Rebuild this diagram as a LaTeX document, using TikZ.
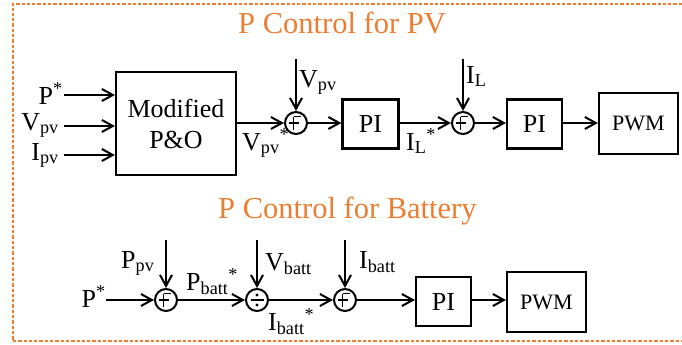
\documentclass[tikz,border=0pt]{standalone}
\usepackage{fontspec}
\setmainfont{Liberation Serif}
\usetikzlibrary{arrows.meta,calc}
\definecolor{ttl}{RGB}{237,125,49}
\begin{document}
\begin{tikzpicture}[x=1pt,y=-1pt,
  arr/.style={line width=2pt,-{Straight Barb[length=11pt,width=12pt,line width=2pt]}},
  blk/.style={draw,line width=2.1pt,inner sep=0pt,align=center,font=\fontsize{26}{31}\selectfont},
  lbl/.style={inner sep=0pt,font=\fontsize{26}{28}\selectfont},
  ttlstyle/.style={inner sep=0pt,text=ttl,font=\fontsize{30.5}{32}\selectfont},
  junc/.style={circle,draw,line width=2pt,minimum size=22pt,inner sep=0pt},
  sumF/.style={junc,path picture={\draw[line width=1.4pt]
     ($(path picture bounding box.center)+(-7.5pt,0pt)$) -- ++(10pt,0pt)
     ($(path picture bounding box.center)+(-2.5pt,6.5pt)$) -- ++(0pt,-13pt)
     ($(path picture bounding box.center)+(-2.5pt,6.5pt)$) -- ++(7.5pt,0pt);}},
  divJ/.style={junc,path picture={\draw[line width=1.4pt]
     ($(path picture bounding box.center)+(-6.5pt,0pt)$) -- ++(13pt,0pt);
     \fill ($(path picture bounding box.center)+(0pt,5pt)$) circle (1.6pt);
     \fill ($(path picture bounding box.center)+(0pt,-5pt)$) circle (1.6pt);}}
]
\useasboundingbox (0,0) rectangle (682,345);
% border
\draw[ttl,line width=2pt,dash pattern=on 3.3pt off 2pt] (682,4) -- (12.5,4) -- (12.5,341) -- (682,341);

% titles
\node[ttlstyle,anchor=base west] (t1) at (238,34) {P Control for PV};
\node[ttlstyle,anchor=base west] (t2) at (218,218) {P Control for Battery};

% ---- PV row ----
\node[blk,minimum width=120pt,minimum height=103pt] (mpo) at (176,123.5) {Modified\\P\&O};
\node[sumF] (s1) at (296,123) {};
\node[blk,minimum width=56pt,minimum height=49pt] (pi1) at (370.5,124) {PI};
\node[sumF] (s2) at (463,123) {};
\node[blk,minimum width=55pt,minimum height=49pt] (pi2) at (534.5,124) {PI};
\node[blk,minimum width=79pt,minimum height=61pt,font=\fontsize{22}{24}\selectfont] (pwm1) at (638.5,123.5) {PWM};

\coordinate (inP) at (64,95);
\coordinate (inV) at (64,126);
\coordinate (inI) at (64,155);
\coordinate (topV) at (296,59);
\coordinate (topI) at (463,59);

\draw[arr] (inP) -- (mpo.west |- inP);
\draw[arr] (inV) -- (mpo.west |- inV);
\draw[arr] (inI) -- (mpo.west |- inI);
\draw[arr] (mpo.east |- s1) -- (s1);
\draw[arr] (topV) -- (s1);
\draw[arr] (s1) -- (pi1.west |- s1);
\draw[arr] (pi1.east |- s2) -- (s2);
\draw[arr] (topI) -- (s2);
\draw[arr] (s2) -- (pi2.west |- s2);
\draw[arr] (pi2.east |- s2) -- (pwm1.west |- s2);

\node[lbl,anchor=base east] (lP) at (63,104) {P\textsuperscript{*}};
\node[lbl,anchor=base east] (lV) at (59,130) {V\textsubscript{pv}};
\node[lbl,anchor=base east] (lI) at (59,160) {I\textsubscript{pv}};
\node[lbl,anchor=base west] (lVo) at (242,150) {V\textsubscript{pv}\textsuperscript{*}};
\node[lbl,anchor=base west] (lVt) at (299,87) {V\textsubscript{pv}};
\node[lbl,anchor=base west] (lIo) at (406,150) {I\textsubscript{L}\textsuperscript{*}};
\node[lbl,anchor=base west] (lIt) at (466,83) {I\textsubscript{L}};

% ---- Battery row ----
\node[sumF] (s3) at (166,300) {};
\node[divJ] (d1) at (257,300) {};
\node[sumF] (s4) at (345,300) {};
\node[blk,minimum width=55pt,minimum height=49pt] (pi3) at (443.5,301.5) {PI};
\node[blk,minimum width=79pt,minimum height=60pt,font=\fontsize{22}{24}\selectfont] (pwm2) at (546.5,302) {PWM};

\coordinate (inPb) at (106,300);
\coordinate (topP) at (166,240);
\coordinate (topVb) at (257,240);
\coordinate (topIb) at (345,240);

\draw[arr] (inPb) -- (s3);
\draw[arr] (topP) -- (s3);
\draw[arr] (s3) -- (d1);
\draw[arr] (topVb) -- (d1);
\draw[arr] (d1) -- (s4);
\draw[arr] (topIb) -- (s4);
\draw[arr] (s4) -- (pi3.west |- s4);
\draw[arr] (pi3.east |- s4) -- (pwm2.west |- s4);

\node[lbl,anchor=base east] (lPb) at (106,307) {P\textsuperscript{*}};
\node[lbl,anchor=base west] (lPpv) at (121,268) {P\textsubscript{pv}};
\node[lbl,anchor=base west] (lPbatt) at (186,290) {P\textsubscript{batt}\textsuperscript{*}};
\node[lbl,anchor=base west] (lVb) at (265,270) {V\textsubscript{batt}};
\node[lbl,anchor=base west] (lIbo) at (268,330) {I\textsubscript{batt}\textsuperscript{*}};
\node[lbl,anchor=base west] (lIbt) at (359,268) {I\textsubscript{batt}};
\end{tikzpicture}
\end{document}
